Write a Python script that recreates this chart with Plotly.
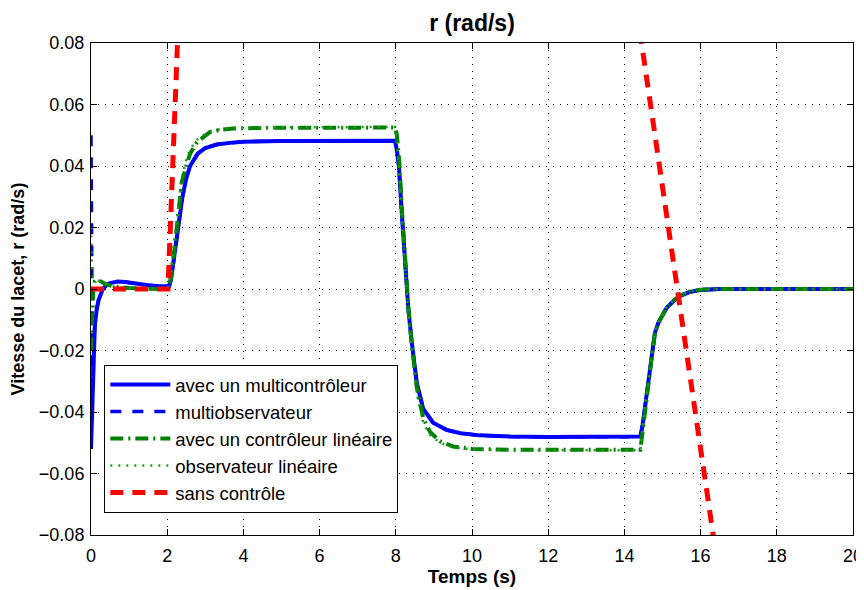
import plotly.graph_objects as go

# ---------------- data ----------------
t_mc = [0, 0.02, 0.04, 0.06, 0.1, 0.15, 0.2, 0.3, 0.4, 0.5, 0.7, 0.9, 1.2, 1.5, 1.8, 2.0,
        2.05, 2.1, 2.15, 2.2, 2.3, 2.4, 2.5, 2.6, 2.8, 3.0, 3.3, 3.7, 4.0, 5.0, 6.0, 7.0, 7.98,
        8.03, 8.08, 8.15, 8.24, 8.33, 8.42, 8.55, 8.72, 8.98, 9.33, 9.7, 10.2, 11.0, 12.0, 13.0,
        14.0, 14.42, 14.48, 14.54, 14.63, 14.72, 14.8, 14.89, 15.0, 15.11, 15.3, 15.46, 15.7,
        16.0, 16.5, 18.0, 20.0]
v_mc = [-0.052, -0.042, -0.032, -0.023, -0.012, -0.0065, -0.0035, -0.0003, 0.0013, 0.0019,
        0.0024, 0.0023, 0.0017, 0.0012, 0.0009, 0.0008,
        0.001, 0.003, 0.007, 0.012, 0.021, 0.030, 0.036, 0.040, 0.044, 0.0458, 0.047, 0.0476,
        0.0479, 0.0481, 0.0481, 0.0481, 0.0482,
        0.045, 0.040, 0.026, 0.0096, -0.0067, -0.0175, -0.0305, -0.039, -0.0435, -0.0458,
        -0.0469, -0.0476, -0.048, -0.0481, -0.0481,
        -0.048, -0.048, -0.044, -0.038, -0.0306, -0.0219, -0.0143, -0.011, -0.0085, -0.0061,
        -0.0038, -0.0023, -0.001, -0.0003, 0.0, 0.0, 0.0]

t_mo = [0, 0.01, 0.02, 0.04, 0.06, 0.1, 0.15, 0.2, 0.3, 0.4, 0.5, 0.7, 0.9, 1.2, 1.5, 1.8, 2.0,
        2.05, 2.1, 2.15, 2.2, 2.3, 2.4, 2.5, 2.6, 2.8, 3.0, 3.3, 3.7, 4.0, 5.0, 6.0, 7.0, 7.98,
        8.03, 8.08, 8.15, 8.24, 8.33, 8.42, 8.55, 8.72, 8.98, 9.33, 9.7, 10.2, 11.0, 12.0, 13.0,
        14.0, 14.42, 14.48, 14.54, 14.63, 14.72, 14.8, 14.89, 15.0, 15.11, 15.3, 15.46, 15.7,
        16.0, 16.5, 18.0, 20.0]
v_mo = [0.050, 0.012, -0.030, -0.032, -0.023, -0.012, -0.0065, -0.0035, -0.0003, 0.0013, 0.0019,
        0.0024, 0.0023, 0.0017, 0.0012, 0.0009, 0.0008,
        0.001, 0.003, 0.007, 0.012, 0.021, 0.030, 0.036, 0.040, 0.044, 0.0458, 0.047, 0.0476,
        0.0479, 0.0481, 0.0481, 0.0481, 0.0482,
        0.045, 0.040, 0.026, 0.0096, -0.0067, -0.0175, -0.0305, -0.039, -0.0435, -0.0458,
        -0.0469, -0.0476, -0.048, -0.0481, -0.0481,
        -0.048, -0.048, -0.044, -0.038, -0.0306, -0.0219, -0.0143, -0.011, -0.0085, -0.0061,
        -0.0038, -0.0023, -0.001, -0.0003, 0.0, 0.0, 0.0]

t_cl = [0, 0.03, 0.06, 0.1, 0.15, 0.25, 0.4, 0.6, 1.0, 1.5, 2.0,
        2.05, 2.1, 2.2, 2.3, 2.38, 2.5, 2.6, 2.78, 3.0, 3.12, 3.4, 3.73, 4.5, 6.0, 7.98,
        8.03, 8.1, 8.15, 8.24, 8.33, 8.42, 8.55, 8.72, 8.9, 9.16, 9.5, 10.0, 11.0, 14.42,
        14.47, 14.54, 14.63, 14.72, 14.8, 14.89, 15.0, 15.11, 15.3, 15.46, 15.7, 16.0, 16.5, 20.0]
v_cl = [-0.020, -0.008, 0.0, 0.0025, 0.003, 0.0025, 0.0015, 0.0008, 0.0003, 0.0001, 0.0,
        0.001, 0.004, 0.014, 0.025, 0.0347, 0.040, 0.044, 0.0477, 0.050, 0.051, 0.0518, 0.0522,
        0.0524, 0.0524, 0.0525,
        0.050, 0.040, 0.028, 0.011, -0.006, -0.018, -0.032, -0.042, -0.0465, -0.0495, -0.0512,
        -0.052, -0.0523, -0.0523,
        -0.047, -0.039, -0.031, -0.022, -0.0145, -0.011, -0.0085, -0.006, -0.0037, -0.0022,
        -0.0009, -0.0002, 0.0, 0.0]

t_ol = [0, 0.02, 0.05, 0.1, 0.15, 0.25, 0.4, 0.6, 1.0, 1.5, 2.0,
        2.05, 2.1, 2.2, 2.3, 2.38, 2.5, 2.6, 2.78, 3.0, 3.12, 3.4, 3.73, 4.5, 6.0, 7.98,
        8.02, 8.1, 8.15, 8.24, 8.33, 8.42, 8.55, 8.72, 8.9, 9.16, 9.5, 10.0, 11.0, 14.42,
        14.47, 14.54, 14.63, 14.72, 14.8, 14.89, 15.0, 15.11, 15.3, 15.46, 15.7, 16.0, 16.5, 20.0]
v_ol = [0.020, 0.009, 0.004, 0.003, 0.003, 0.0025, 0.0015, 0.0008, 0.0003, 0.0001, 0.0,
        0.002, 0.006, 0.017, 0.028, 0.036, 0.042, 0.0455, 0.0485, 0.0505, 0.0512, 0.052, 0.0524,
        0.0526, 0.0526, 0.0527,
        0.049, 0.037, 0.025, 0.008, -0.009, -0.021, -0.034, -0.0435, -0.0475, -0.050, -0.0515,
        -0.0522, -0.0524, -0.0524,
        -0.046, -0.038, -0.030, -0.021, -0.014, -0.0108, -0.0083, -0.0058, -0.0036, -0.0021,
        -0.0008, -0.0002, 0.0, 0.0]

t_sc = [0, 2.02, 2.27, 2.6, 5.0, 8.0, 11.0, 13.0, 14.45, 15.4, 16.33, 17.0]
v_sc = [0.0, 0.0, 0.08, 0.19, 0.45, 0.55, 0.45, 0.20, 0.08, 0.0, -0.08, -0.138]

names = ["avec un multicontrôleur", "multiobservateur", "avec un contrôleur linéaire",
         "observateur linéaire", "sans contrôle"]

x_ticks = [0, 2, 4, 6, 8, 10, 12, 14, 16, 18, 20]
y_ticks = [-0.08, -0.06, -0.04, -0.02, 0, 0.02, 0.04, 0.06, 0.08]
y_ticklabels = ["\u22120.08", "\u22120.06", "\u22120.04", "\u22120.02", "0",
                "0.02", "0.04", "0.06", "0.08"]

# ---------------- figure ----------------
FONT = "Liberation Sans, Arial, Helvetica, sans-serif"
fig = go.Figure()
fig.add_trace(go.Scatter(x=t_mc, y=v_mc, mode="lines", name=names[0],
                         line=dict(color="#0000ff", width=4)))
fig.add_trace(go.Scatter(x=t_mo, y=v_mo, mode="lines", name=names[1],
                         line=dict(color="#0000ff", width=3.5, dash="11px,11px")))
fig.add_trace(go.Scatter(x=t_cl, y=v_cl, mode="lines", name=names[2],
                         line=dict(color="#008000", width=4, dash="13px,5px,2px,5px")))
fig.add_trace(go.Scatter(x=t_ol, y=v_ol, mode="lines", name=names[3],
                         line=dict(color="#1f9a1f", width=2.5, dash="2px,6px")))
fig.add_trace(go.Scatter(x=t_sc, y=v_sc, mode="lines", name=names[4],
                         line=dict(color="#ff0000", width=5, dash="13px,9px")))

axis_common = dict(
    showline=True, linecolor="black", linewidth=1, mirror="ticks",
    ticks="inside", ticklen=6, tickcolor="black", tickwidth=1,
    showgrid=True, gridcolor="black", gridwidth=1, griddash="1px,6px",
    zeroline=False, automargin=False,
    tickfont=dict(family=FONT, size=18, color="black"),
)

# the page body adds an 8px offset; the figure is sized/margined so the plot
# area lands at x 91..853, y 43..535 in the 864x590 window without overflow
W, H = 856, 582
fig.update_layout(
    width=W, height=H,
    margin=dict(l=83, r=11, t=35, b=55),
    plot_bgcolor="white", paper_bgcolor="white",
    title=dict(text="<b>r (rad/s)</b>", x=0.5, xref="paper", xanchor="center",
               y=1 - 15 / H, yref="container", yanchor="middle",
               font=dict(family=FONT, size=23, color="black")),
    xaxis=dict(range=[0, 20], tickvals=x_ticks,
               title=dict(text="<b>Temps (s)</b>", standoff=4,
                          font=dict(family=FONT, size=19, color="black")),
               ticklabelstandoff=4, **axis_common),
    yaxis=dict(range=[-0.08, 0.08], tickvals=y_ticks, ticktext=y_ticklabels,
               title=dict(text="<b>Vitesse du lacet, r (rad/s)</b>", standoff=12,
                          font=dict(family=FONT, size=18, color="black")),
               ticklabelstandoff=2, **axis_common),
    legend=dict(x=0.0175, y=0.045, xanchor="left", yanchor="bottom",
                bgcolor="white", bordercolor="black", borderwidth=1,
                font=dict(family=FONT, size=18.5, color="black"),
                itemwidth=60, tracegroupgap=0),
    showlegend=True,
)

fig.write_html("out.html")
